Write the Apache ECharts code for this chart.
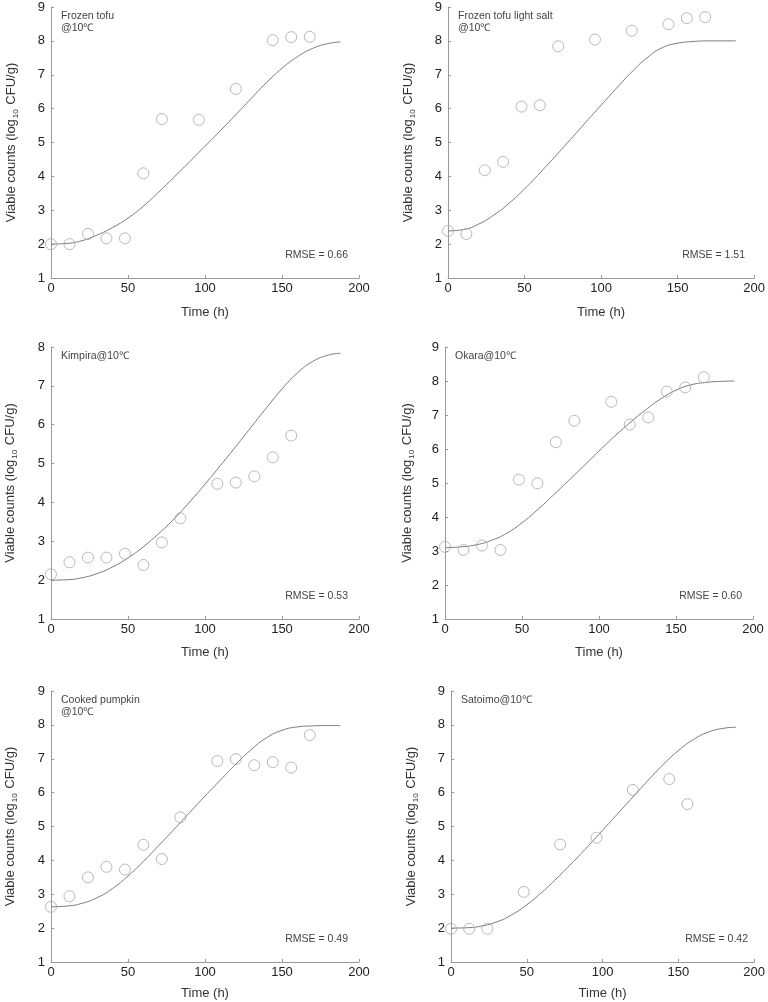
<!DOCTYPE html>
<html>
<head>
<meta charset="utf-8">
<script src="https://cdn.jsdelivr.net/npm/echarts@6/dist/echarts.min.js"></script>
<style>
html,body{margin:0;padding:0;background:#fff;}
#chart{width:768px;height:1002px;}
</style>
</head>
<body>
<div id="chart"></div>
<script>
// ---- Data ----
const panelLabels = [
  "Frozen tofu\n@10\u2103",
  "Frozen tofu light salt\n@10\u2103",
  "Kimpira@10\u2103",
  "Okara@10\u2103",
  "Cooked pumpkin\n@10\u2103",
  "Satoimo@10\u2103"
];
const rmseLabels = ["RMSE = 0.66", "RMSE = 1.51", "RMSE = 0.53", "RMSE = 0.60", "RMSE = 0.49", "RMSE = 0.42"];
const yMaxes = [9, 9, 8, 9, 9, 9];
const xTicks = [0, 50, 100, 150, 200];

// observed points
const obsT1 = [0, 12, 24, 36, 48, 60, 72, 96, 120, 144, 156, 168];
const obsV1 = [2.00, 2.00, 2.30, 2.17, 2.17, 4.09, 5.69, 5.67, 6.58, 8.02, 8.11, 8.12];
const obsT2 = [0, 12, 24, 36, 48, 60, 72, 96, 120, 144, 156, 168];
const obsV2 = [2.39, 2.30, 4.18, 4.43, 6.06, 6.10, 7.84, 8.04, 8.30, 8.49, 8.67, 8.70];
const obsT3 = [0, 12, 24, 36, 48, 60, 72, 84, 108, 120, 132, 144, 156];
const obsV3 = [2.15, 2.46, 2.58, 2.58, 2.68, 2.39, 2.97, 3.59, 4.48, 4.51, 4.67, 5.16, 5.72];
const obsT4 = [0, 12, 24, 36, 48, 60, 72, 84, 108, 120, 132, 144, 156, 168];
const obsV4 = [3.12, 3.03, 3.16, 3.03, 5.10, 4.99, 6.20, 6.83, 7.39, 6.72, 6.93, 7.69, 7.81, 8.11];
const obsT5 = [0, 12, 24, 36, 48, 60, 72, 84, 108, 120, 132, 144, 156, 168];
const obsV5 = [2.63, 2.94, 3.50, 3.81, 3.73, 4.46, 4.04, 5.27, 6.93, 6.99, 6.81, 6.90, 6.74, 7.70];
const obsT6 = [0, 12, 24, 48, 72, 96, 120, 144, 156];
const obsV6 = [1.98, 1.98, 1.98, 3.07, 4.47, 4.67, 6.08, 6.40, 5.66];

// fitted curves
const curveT = [0, 10, 20, 30, 40, 50, 60, 70, 80, 90, 100, 110, 120, 130, 140, 150, 160, 170, 180, 188];
const fitV1 = [2.00, 2.02, 2.10, 2.27, 2.49, 2.77, 3.12, 3.54, 3.98, 4.43, 4.89, 5.35, 5.82, 6.30, 6.77, 7.19, 7.53, 7.78, 7.92, 7.97];
const fitV2 = [2.39, 2.43, 2.59, 2.86, 3.21, 3.63, 4.10, 4.59, 5.09, 5.60, 6.10, 6.60, 7.08, 7.50, 7.80, 7.93, 7.98, 8.00, 8.00, 8.00];
const fitV3 = [2.00, 2.01, 2.06, 2.17, 2.34, 2.57, 2.86, 3.20, 3.58, 4.01, 4.47, 4.95, 5.44, 5.94, 6.44, 6.92, 7.33, 7.63, 7.79, 7.84];
const fitV4 = [3.10, 3.12, 3.18, 3.31, 3.52, 3.83, 4.21, 4.63, 5.06, 5.50, 5.94, 6.37, 6.77, 7.14, 7.47, 7.73, 7.89, 7.96, 7.99, 8.00];
const fitV5 = [2.63, 2.65, 2.73, 2.90, 3.17, 3.54, 3.97, 4.44, 4.92, 5.41, 5.90, 6.37, 6.84, 7.27, 7.62, 7.84, 7.94, 7.97, 7.98, 7.98];
const fitV6 = [2.00, 2.01, 2.06, 2.18, 2.39, 2.69, 3.06, 3.48, 3.93, 4.40, 4.89, 5.38, 5.87, 6.36, 6.83, 7.24, 7.57, 7.79, 7.90, 7.93];

const obsT = [obsT1, obsT2, obsT3, obsT4, obsT5, obsT6];
const obsV = [obsV1, obsV2, obsV3, obsV4, obsV5, obsV6];
const fitV = [fitV1, fitV2, fitV3, fitV4, fitV5, fitV6];

// ---- Layout ----
const FONT = "'Liberation Sans', Arial, sans-serif";
const grids = [
  {left: 51, top: 7, width: 308, height: 271},
  {left: 448, top: 7, width: 308, height: 271},
  {left: 51, top: 347, width: 308, height: 272},
  {left: 445, top: 347, width: 308, height: 272},
  {left: 51, top: 691, width: 308, height: 271},
  {left: 451, top: 691, width: 308, height: 271}
];
const xNameGaps = [28, 28, 27, 27, 25, 25];
const yNameGaps = [31, 31, 32, 29, 32, 31];

const zip = (a, b) => a.map((t, i) => [t, b[i]]);

const option = {
  backgroundColor: '#fff',
  animation: false,
  textStyle: {fontFamily: FONT},
  grid: grids.map(g => Object.assign({containLabel: false}, g)),
  xAxis: grids.map((g, i) => ({
    type: 'value', gridIndex: i, min: xTicks[0], max: xTicks[xTicks.length - 1], interval: 50,
    name: 'Time (h)', nameLocation: 'middle', nameGap: xNameGaps[i],
    nameTextStyle: {fontSize: 13, color: '#333', fontFamily: FONT},
    axisLine: {show: true, lineStyle: {color: '#9a9a9a', width: 1}},
    axisTick: {show: true, inside: true, length: 3, lineStyle: {color: '#9a9a9a'}},
    axisLabel: {fontSize: 13, color: '#222', margin: 4, fontFamily: FONT},
    splitLine: {show: false}
  })),
  yAxis: grids.map((g, i) => ({
    type: 'value', gridIndex: i, min: 1, max: yMaxes[i], interval: 1,
    name: '{a|Viable counts (log}{b|10}{a| CFU/g)}', nameLocation: 'middle', nameGap: yNameGaps[i], nameRotate: 90,
    nameTextStyle: {
      color: '#333', fontFamily: FONT,
      rich: {
        a: {fontSize: 13, color: '#333', fontFamily: FONT},
        b: {fontSize: 8, color: '#333', fontFamily: FONT, padding: [9, 1, 0, 1]}
      }
    },
    axisLine: {show: true, onZero: false, lineStyle: {color: '#9a9a9a', width: 1}},
    axisTick: {show: true, inside: true, length: 3, lineStyle: {color: '#9a9a9a'}},
    axisLabel: {fontSize: 13, color: '#222', margin: 6, fontFamily: FONT},
    splitLine: {show: false}
  })),
  series: [],
  graphic: []
};

for (let i = 0; i < 6; i++) {
  option.series.push({
    type: 'line', xAxisIndex: i, yAxisIndex: i,
    data: zip(curveT, fitV[i]),
    smooth: 0.5, showSymbol: false, symbol: 'none',
    lineStyle: {color: '#7a7a7a', width: 1}, z: 2, silent: true
  });
  option.series.push({
    type: 'scatter', xAxisIndex: i, yAxisIndex: i,
    data: zip(obsT[i], obsV[i]),
    symbol: 'circle', symbolSize: 11, clip: false,
    itemStyle: {color: 'rgba(0,0,0,0)', borderColor: '#a8a8a8', borderWidth: 1},
    z: 3, silent: true
  });
  const g = grids[i];
  option.graphic.push({
    type: 'text', left: g.left + 10, top: g.top + 3,
    style: {text: panelLabels[i], fontSize: 10.5, lineHeight: 12, fill: '#444', fontFamily: FONT}
  });
  option.graphic.push({
    type: 'text', right: 768 - (g.left + g.width - 11), top: g.top + g.height - 28,
    style: {text: rmseLabels[i], fontSize: 10.5, fill: '#444', fontFamily: FONT}
  });
}

const chart = echarts.init(document.getElementById('chart'), null, {renderer: 'canvas'});
chart.setOption(option);
</script>
</body>
</html>
